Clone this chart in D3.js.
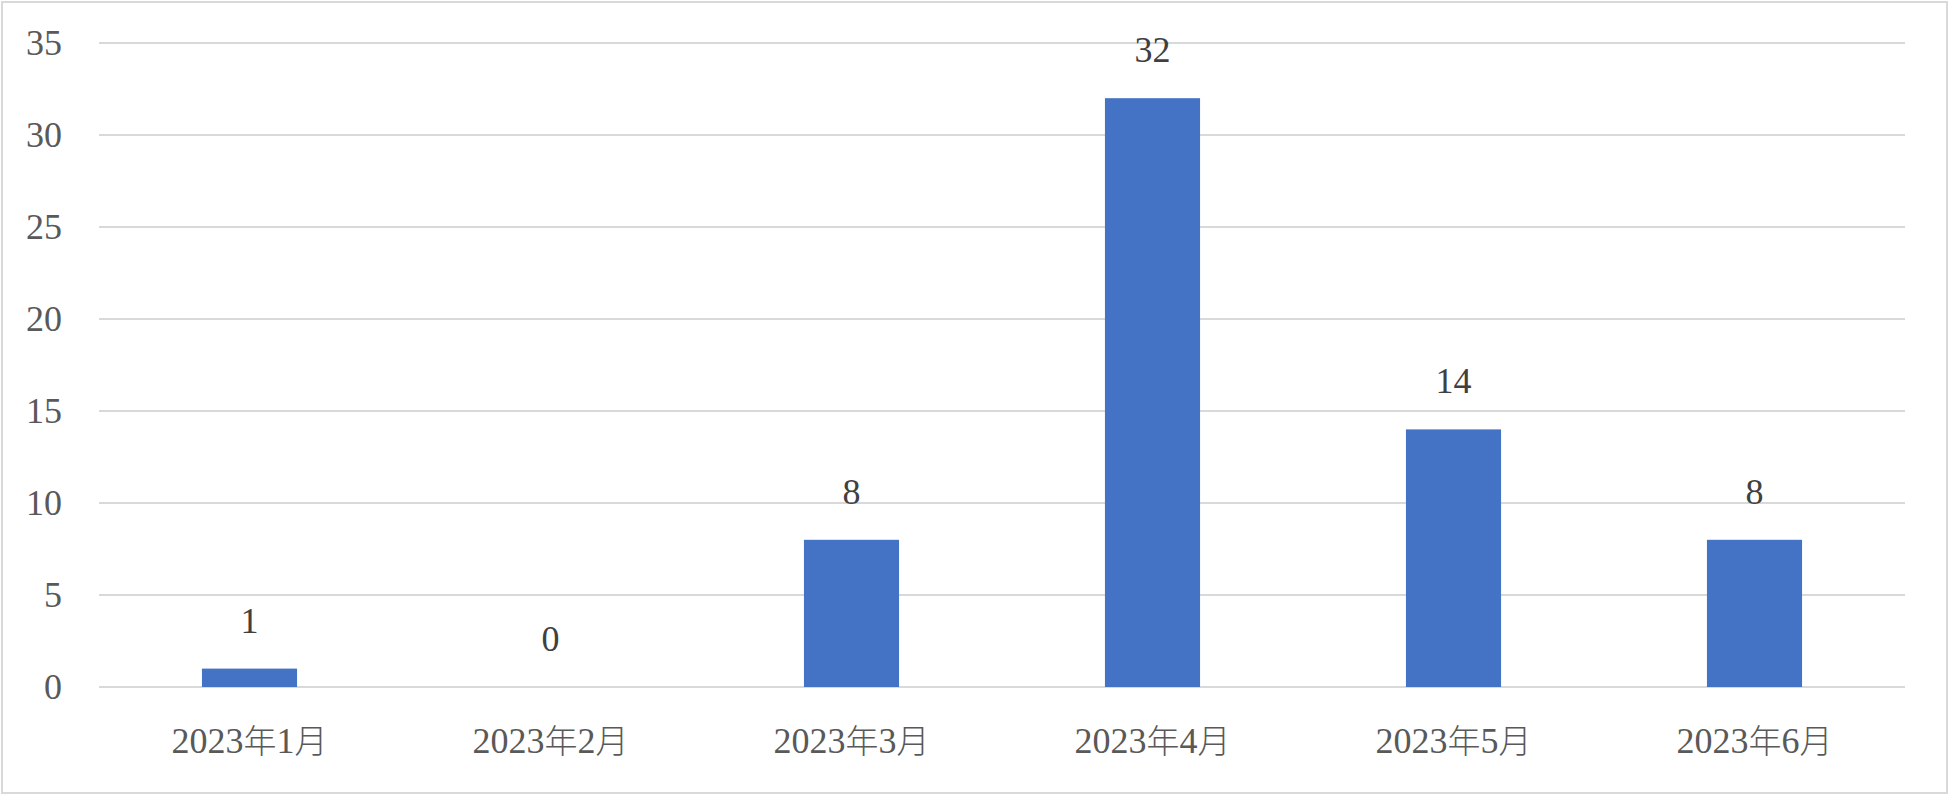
<!DOCTYPE html>
<meta charset="utf-8">
<style>
body { margin: 0; background: #fff; }
.grid line { stroke: #d9d9d9; stroke-width: 2; }
.axis text { fill: #595959; font-family: "Liberation Serif", "Noto Sans CJK JP", serif; font-size: 36px; }
.axis .cjk { font-family: "Noto Sans CJK JP", sans-serif; font-size: 33px; font-weight: 300; }
.label { fill: #404040; font-family: "Liberation Serif", serif; font-size: 36px; }
</style>
<svg width="1950" height="796"></svg>
<script src="https://d3js.org/d3.v7.min.js"></script>
<script>

var months = ["2023年1月", "2023年2月", "2023年3月", "2023年4月", "2023年5月", "2023年6月"];
var counts = [1, 0, 8, 32, 14, 8];
var yTicks = [0, 5, 10, 15, 20, 25, 30, 35];

var svg = d3.select("svg"),
    width = +svg.attr("width"),
    height = +svg.attr("height");

var margin = {top: 43, right: 45, bottom: 109, left: 99};

svg.append("rect")
    .attr("x", 2).attr("y", 2)
    .attr("width", width - 5).attr("height", height - 5)
    .attr("fill", "#fff")
    .attr("stroke", "#d9d9d9")
    .attr("stroke-width", 2);

var x = d3.scaleBand()
    .domain(months)
    .range([margin.left, width - margin.right])
    .paddingInner(0.684)
    .paddingOuter(0.342);

var y = d3.scaleLinear()
    .domain([0, 35])
    .range([height - margin.bottom, margin.top]);

var grid = svg.append("g").attr("class", "grid");
grid.selectAll("line")
  .data(yTicks)
  .enter().append("line")
    .attr("x1", margin.left)
    .attr("x2", width - margin.right)
    .attr("y1", function(d) { return y(d); })
    .attr("y2", function(d) { return y(d); });

var yAxis = svg.append("g")
    .attr("class", "axis")
    .attr("transform", "translate(" + (margin.left - 37) + ",0)")
    .call(d3.axisLeft(y).tickValues(yTicks).tickSize(0).tickPadding(0));
yAxis.select(".domain").remove();
yAxis.selectAll("text").attr("dy", "0.32em");

var xAxis = svg.append("g")
    .attr("class", "axis")
    .attr("transform", "translate(0," + y(0) + ")")
    .call(d3.axisBottom(x).tickSize(0).tickPadding(40));
xAxis.select(".domain").remove();

// split labels so the CJK characters can use their own font
xAxis.selectAll(".tick text").each(function(d) {
  var t = d3.select(this).text("");
  d.split(/([年月])/).filter(function(s) { return s; }).forEach(function(s) {
    t.append("tspan")
      .attr("class", /[年月]/.test(s) ? "cjk" : null)
      .text(s);
  });
});

svg.append("g").selectAll("rect")
  .data(counts)
  .enter().append("rect")
    .attr("x", function(d, i) { return x(months[i]); })
    .attr("y", function(d) { return y(d); })
    .attr("width", x.bandwidth())
    .attr("height", function(d) { return y(0) - y(d); })
    .attr("fill", "#4472c4");

svg.append("g").selectAll("text")
  .data(counts)
  .enter().append("text")
    .attr("class", "label")
    .attr("text-anchor", "middle")
    .attr("x", function(d, i) { return x(months[i]) + x.bandwidth() / 2; })
    .attr("y", function(d) { return y(d) - 36; })
    .text(function(d) { return d; });

</script>
